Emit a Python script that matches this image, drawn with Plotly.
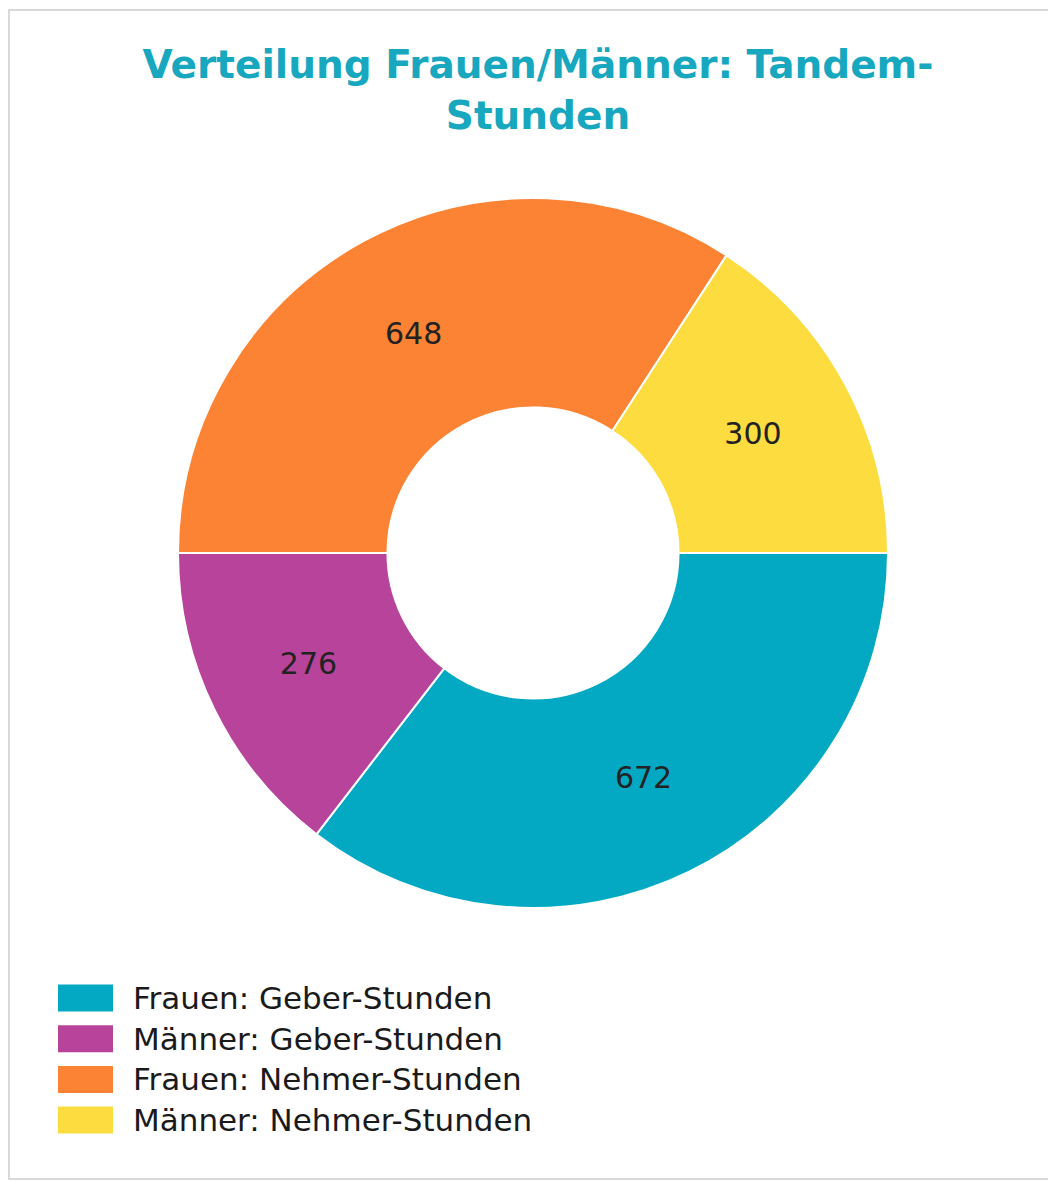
import plotly.graph_objects as go

# Daten
labels = ["Frauen: Geber-Stunden", "Männer: Geber-Stunden",
          "Frauen: Nehmer-Stunden", "Männer: Nehmer-Stunden"]
values = [672, 276, 648, 300]
colors = ["#03A9C2", "#B7449A", "#FC8234", "#FCDC3E"]

# Seite hat 8px body-margin -> Figur etwas kleiner, Koordinaten verschoben
OFF = 8
W, H = 1056 - OFF, 1181 - OFF


def px(x):
    return (x - OFF) / W


def py(y):
    return 1 - (y - OFF) / H


fig = go.Figure(go.Pie(
    labels=labels,
    values=values,
    hole=0.41,
    sort=False,
    direction='clockwise',
    rotation=90,
    marker=dict(colors=colors, line=dict(color='white', width=2)),
    textinfo='value',
    textposition='inside',
    insidetextorientation='horizontal',
    textfont=dict(family="DejaVu Sans", size=30, color='#222222'),
    domain=dict(x=[px(533 - 355), px(533 + 355)], y=[py(553 + 355), py(553 - 355)]),
    showlegend=False,
))

# Rahmen + Legende von Hand (große Farbfelder wie im Original)
shapes = [dict(type='rect', xref='paper', yref='paper',
               x0=px(9), x1=px(1070), y0=py(1179), y1=py(10),
               line=dict(color='#d9d9d9', width=2), fillcolor='rgba(0,0,0,0)')]
annotations = []
for i, (lab, col) in enumerate(zip(labels, colors)):
    yc = 998 + i * 40.7
    shapes.append(dict(type='rect', xref='paper', yref='paper',
                       x0=px(58), x1=px(113), y0=py(yc + 13.5), y1=py(yc - 13.5),
                       line=dict(width=0), fillcolor=col))
    annotations.append(dict(text=lab, xref='paper', yref='paper',
                            x=px(131), y=py(yc), xanchor='left', yanchor='middle',
                            showarrow=False,
                            font=dict(family="DejaVu Sans", size=31, color='#1a1a1a')))

fig.update_layout(
    width=W, height=H,
    title=dict(text="<b>Verteilung Frauen/Männer: Tandem-<br>Stunden</b>",
               x=px(538), xanchor='center', y=py(78), yanchor='top',
               font=dict(family="DejaVu Sans", size=39, color='#17A7BE')),
    margin=dict(l=0, r=0, t=0, b=0),
    paper_bgcolor='white',
    shapes=shapes,
    annotations=annotations,
)

fig.write_html("out.html")
